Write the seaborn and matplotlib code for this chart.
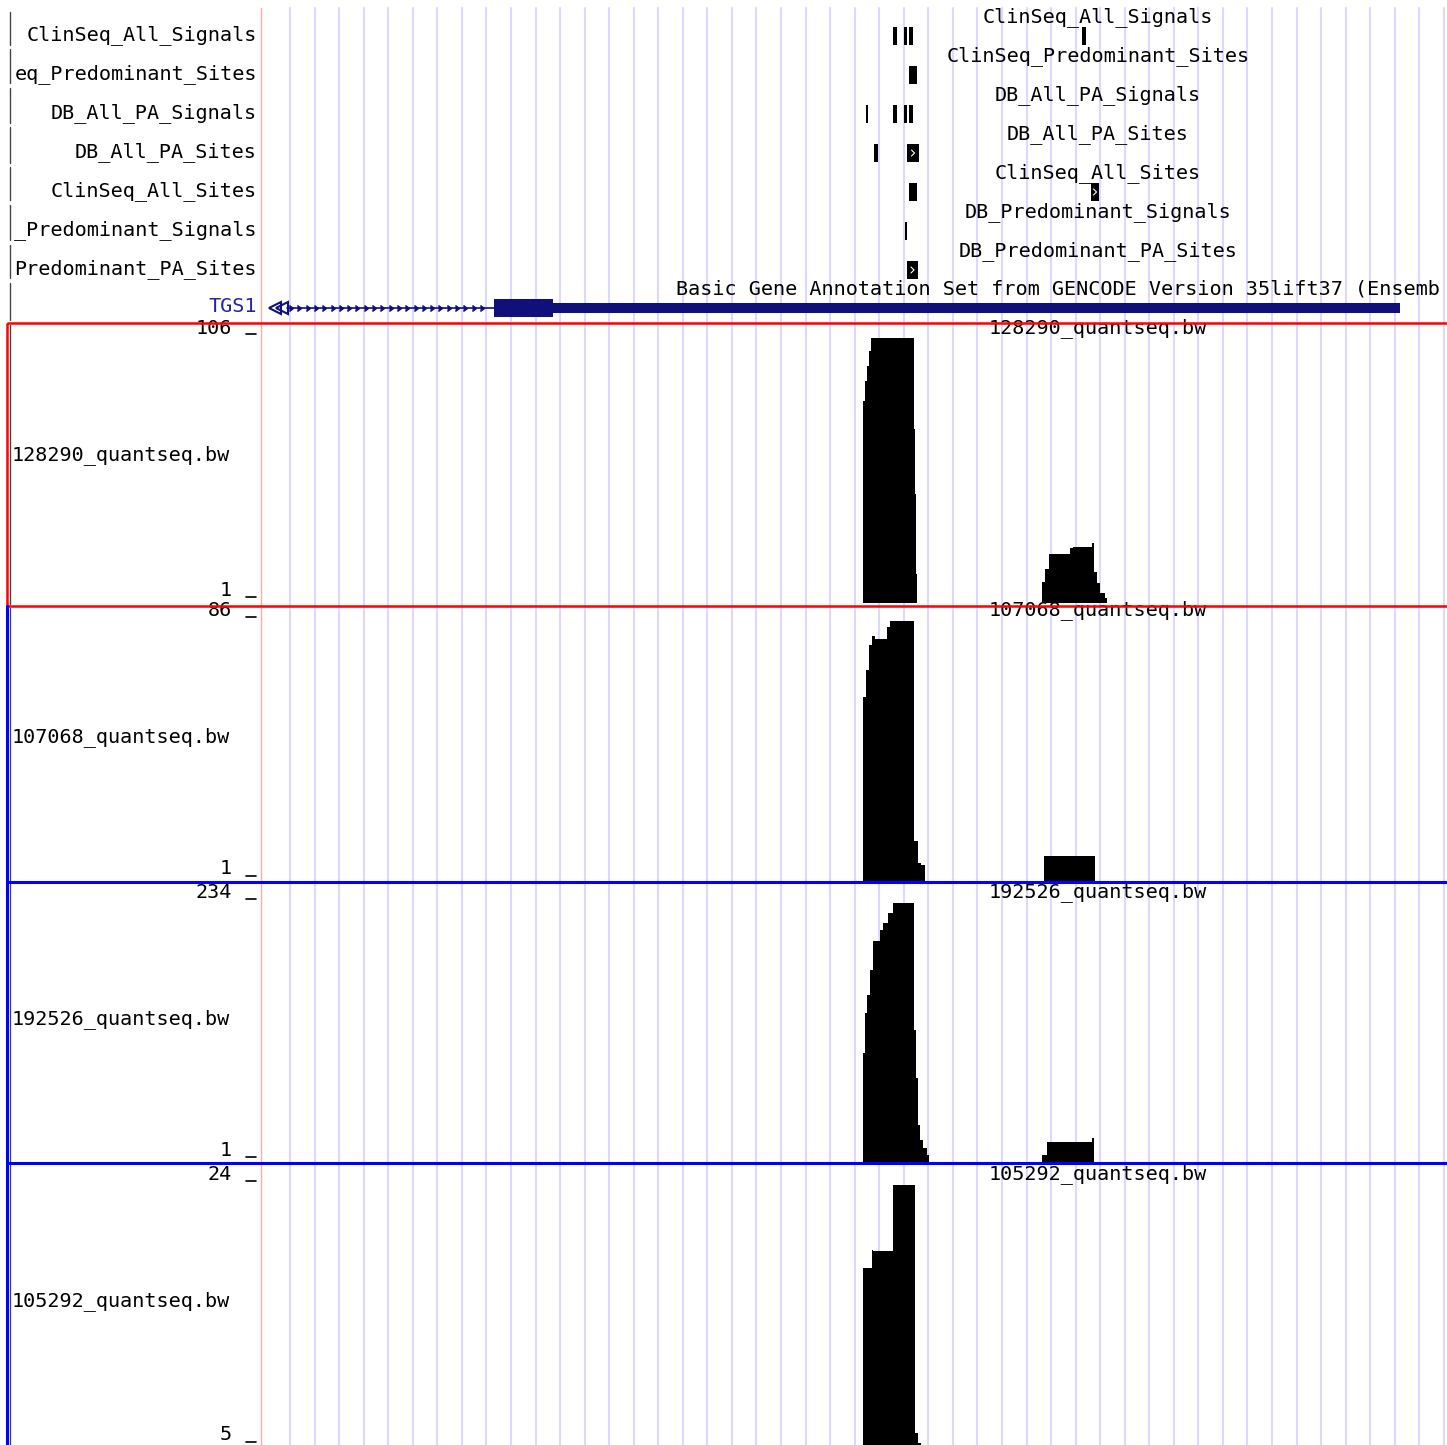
import numpy as np
import pandas as pd
import matplotlib
matplotlib.use("Agg")
import matplotlib.pyplot as plt
from matplotlib.patches import Rectangle
import seaborn as sns

sns.set_theme(style="white")
plt.rcParams['font.family'] = ['DejaVu Sans Mono', 'DejaVu Sans']

# ---------------- data ----------------
# genomic positions are expressed in screen-column units of the browser window
annot_tracks = ["ClinSeq_All_Signals", "ClinSeq_Predominant_Sites", "DB_All_PA_Signals",
                "DB_All_PA_Sites", "ClinSeq_All_Sites", "DB_Predominant_Signals",
                "DB_Predominant_PA_Sites"]
# left-hand labels as they appear (long names are cut by the label column)
annot_left_labels = ["ClinSeq_All_Signals", "eq_Predominant_Sites", "DB_All_PA_Signals",
                     "DB_All_PA_Sites", "ClinSeq_All_Sites", "_Predominant_Signals",
                     "Predominant_PA_Sites"]
feat_track = [0, 0, 0, 0, 1, 2, 2, 2, 2, 3, 3, 4, 4, 5, 6]
feat_start = [893, 904, 909, 1082, 909, 866, 893, 904, 909, 874, 907, 909, 1091, 905, 907]
feat_end = [897, 907, 913, 1086, 917, 868, 897, 907, 913, 878, 919, 917, 1099, 907, 918]
feat_strand = [".", ".", ".", ".", ".", ".", ".", ".", ".", ".", "+", ".", "+", ".", "+"]

gene_name = "TGS1"
gene_track_title = "Basic Gene Annotation Set from GENCODE Version 35lift37 (Ensemb"
gene_visible_start = 287
gene_cds = (494, 553)
gene_utr = (553, 1400)

sig_names = ["128290_quantseq.bw", "107068_quantseq.bw", "192526_quantseq.bw", "105292_quantseq.bw"]
sig_min = [1, 1, 1, 5]
sig_max = [106, 86, 234, 24]

s128290_start = [863, 865, 867, 869, 871, 914, 915, 916, 1042, 1045, 1049, 1070, 1073, 1092, 1094, 1097, 1100, 1105]
s128290_end = [865, 867, 869, 871, 914, 915, 916, 917, 1045, 1049, 1070, 1073, 1092, 1094, 1097, 1100, 1105, 1107]
s128290_val = [81, 89, 95, 101, 106, 70, 44, 12, 9, 14, 20, 22.5, 23, 24.5, 13, 8.6, 4.6, 2.6]

s107068_start = [863, 866, 869, 872, 875, 887, 890, 914, 918, 921, 1044]
s107068_end = [866, 869, 872, 875, 887, 890, 914, 918, 921, 925, 1095]
s107068_val = [61, 70, 78, 81, 80, 84, 86, 14, 7, 6.2, 9.2]

s192526_start = [863, 865, 867, 870, 873, 880, 883, 888, 893, 914, 916, 918, 920, 923, 927, 1042, 1047, 1092]
s192526_end = [865, 867, 870, 873, 880, 883, 888, 893, 914, 916, 918, 920, 923, 927, 929, 1047, 1092, 1094]
s192526_val = [99, 135, 151, 174, 200, 210, 216, 225, 234, 120, 77, 34, 21, 14, 7, 7.3, 19, 22.6]

s105292_start = [863, 872, 873, 893, 915, 918]
s105292_end = [872, 873, 893, 915, 918, 921]
s105292_val = [18, 19.3, 19.2, 24, 6, 5.3]

signals = [(s128290_start, s128290_end, s128290_val),
           (s107068_start, s107068_end, s107068_val),
           (s192526_start, s192526_end, s192526_val),
           (s105292_start, s105292_end, s105292_val)]

# ---------------- layout ----------------
W, H = 1447, 1445
fig = plt.figure(figsize=(W / 100, H / 100), dpi=100)
fig.patch.set_facecolor("white")

DATA_X0 = 262
FS = 14.5
navy = "#10107c"
grid_c = "#dadaff"

ax = fig.add_axes([0, 0, 1, 1], zorder=0)
ax.set_xlim(0, W)
ax.set_ylim(H, 0)
ax.axis("off")

# vertical guide lines
for gx in np.arange(290, W + 5, 24.55):
    ax.plot([gx, gx], [8, H], color=grid_c, lw=1.5, zorder=0)
ax.plot([261, 261], [8, H], color="#ffaaaa", lw=1.0, zorder=0)

# left grey track bars
bar_segs = [(12, 45), (49, 83), (88, 123), (127, 163), (167, 200), (205, 240), (245, 278),
            (283, 320), (325, 604), (608, 880), (884, 1161), (1165, 1445)]
for a, b in bar_segs:
    ax.plot([9.5, 9.5], [a, b], color="#444444", lw=1.0, zorder=1)

TITLE_X = 1098
row_pitch = 39
for i, name in enumerate(annot_tracks):
    ax.text(257, 35 + row_pitch * i, annot_left_labels[i], ha="right", va="center", fontsize=FS, color="black")
    ax.text(TITLE_X, 17 + row_pitch * i, name, ha="center", va="center", fontsize=FS, color="black")

# annotation features
for tr, s, e, st in zip(feat_track, feat_start, feat_end, feat_strand):
    yc = 36 + row_pitch * tr
    ax.add_patch(Rectangle((s, yc - 9), e - s, 18, facecolor="black", edgecolor="none", zorder=3))
    if st == "+":
        mx = (s + e) / 2
        ax.plot([mx - 1.5, mx + 1.5, mx - 1.5], [yc - 3, yc, yc + 3], color="white", lw=0.8, zorder=4)

# gene track
gy = 308
ax.text(257, 307, gene_name, ha="right", va="center", fontsize=FS, color="#2424a8")
ax.text(676, 289, gene_track_title, ha="left", va="center", fontsize=FS, color="black")
ax.plot([gene_visible_start, gene_cds[0]], [gy, gy], color=navy, lw=1.2, zorder=3)
arrow_x = np.arange(gene_visible_start + 6, gene_cds[0] - 3, 8.3)
ax.plot(arrow_x, np.full(len(arrow_x), gy), ls="none", marker=5, ms=4, color=navy, zorder=3)
ax.plot([275, 282], [gy, gy], ls="none", marker="<", ms=9, mfc="none", mec=navy, mew=1.5, zorder=3)
ax.add_patch(Rectangle((gene_cds[0], gy - 9), gene_cds[1] - gene_cds[0], 18, facecolor=navy, edgecolor="none", zorder=3))
ax.add_patch(Rectangle((gene_utr[0], gy - 5), gene_utr[1] - gene_utr[0], 10, facecolor=navy, edgecolor="none", zorder=3))

# signal tracks
data_top = [338, 621, 903, 1185]
data_bot = [602, 881, 1162, 1447]
label_y = [455, 737, 1019, 1301]
title_y = [328, 610, 892, 1174]

for k in range(4):
    st, en, va = signals[k]
    df = pd.DataFrame({"start": st, "end": en, "val": va})
    df["mid"] = (df["start"] + df["end"]) / 2
    edges = sorted(set(st) | set(en))
    sax = fig.add_axes([DATA_X0 / W, 1 - data_bot[k] / H, (W - DATA_X0) / W, (data_bot[k] - data_top[k]) / H], zorder=2)
    sns.histplot(data=df, x="mid", weights="val", bins=[float(e) for e in edges], element="step", fill=True,
                 color="black", alpha=1, linewidth=0, ax=sax)
    sax.set_xlim(DATA_X0, W)
    sax.set_ylim(sig_min[k], sig_max[k])
    sax.axis("off")

    ax.text(232, data_top[k] - 10, str(sig_max[k]), ha="right", va="center", fontsize=FS, color="black")
    ax.plot([246, 256], [data_top[k] - 4, data_top[k] - 4], color="black", lw=1.2)
    ax.text(232, data_bot[k] - 12, str(sig_min[k]), ha="right", va="center", fontsize=FS, color="black")
    ax.plot([246, 256], [data_bot[k] - 5, data_bot[k] - 5], color="black", lw=1.2)
    ax.text(12, label_y[k], sig_names[k], ha="left", va="center", fontsize=FS, color="black")
    ax.text(TITLE_X, title_y[k], sig_names[k], ha="center", va="center", fontsize=FS, color="black")

# highlight boxes (overlay)
ov = fig.add_axes([0, 0, 1, 1], zorder=5)
ov.set_xlim(0, W)
ov.set_ylim(H, 0)
ov.axis("off")
ov.plot([7, 7], [606, H], color="#0000ff", lw=2.2)
ov.plot([7, W], [881.5, 881.5], color="#0000ff", lw=2.2)
ov.plot([7, W], [1163, 1163], color="#0000ff", lw=2.2)
ov.add_patch(Rectangle((7, 323), W, 283, facecolor="none", edgecolor="#ff0000", lw=1.8))

fig.savefig("out.png", dpi=100)
